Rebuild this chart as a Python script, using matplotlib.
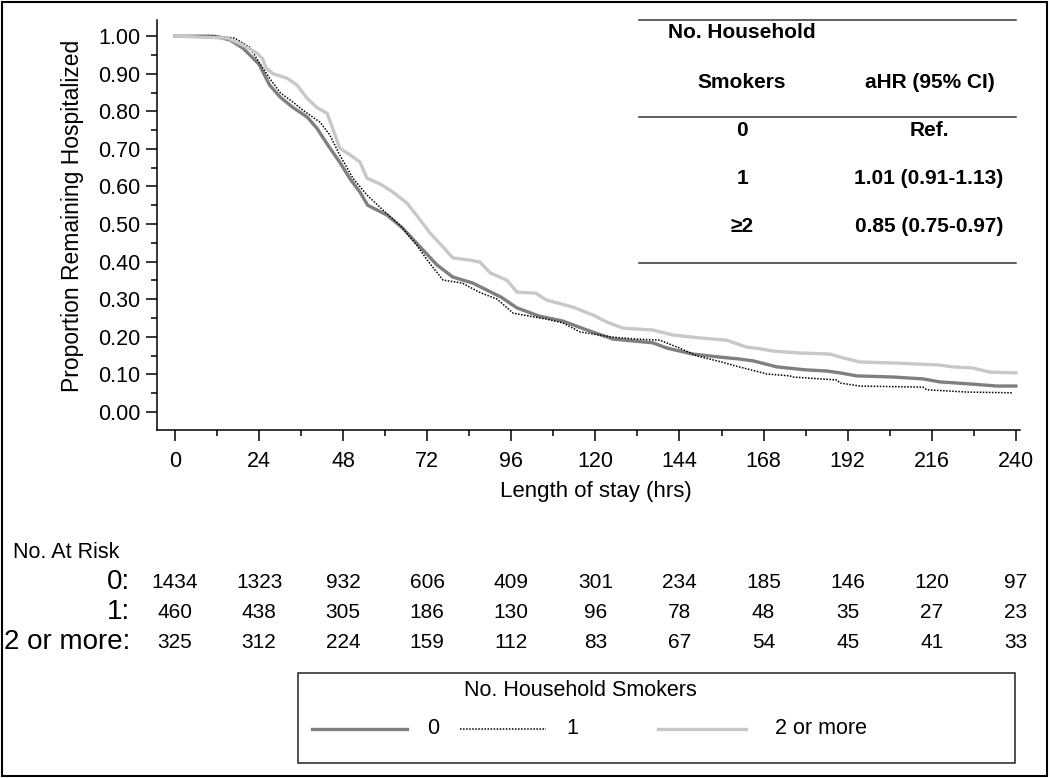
import matplotlib
matplotlib.use("Agg")
import matplotlib.pyplot as plt
from matplotlib.lines import Line2D
from matplotlib.patches import Rectangle
from matplotlib.ticker import MultipleLocator, FormatStrFormatter
import matplotlib.transforms as mtrans

plt.rcParams['font.family'] = ['Liberation Sans', 'DejaVu Sans']

# Kaplan-Meier curves (hours, proportion)
t0 = [0, 11, 15.7, 19.4, 22, 24, 27, 30, 33.7, 37.7, 40.5, 44, 47, 50, 52.8, 55,
      60.5, 65, 70, 74.8, 79.3, 85, 90.8, 93, 97.6, 104, 110.7, 117.6, 125, 136.4,
      140.4, 147.8, 155.5, 161, 165, 171.8, 180, 186, 189.8, 194.6, 205, 213.5,
      218.3, 227.7, 234.6, 240]
s0 = [1.0, 1.0, 0.99, 0.968, 0.944, 0.925, 0.87, 0.838, 0.81, 0.785, 0.755, 0.705,
      0.665, 0.62, 0.585, 0.55, 0.524, 0.489, 0.439, 0.391, 0.359, 0.343, 0.316,
      0.306, 0.277, 0.255, 0.242, 0.218, 0.194, 0.184, 0.17, 0.154, 0.146, 0.141,
      0.136, 0.12, 0.112, 0.109, 0.104, 0.096, 0.093, 0.088, 0.08, 0.074, 0.069,
      0.069]

t1 = [0, 12, 17, 21.4, 24, 27, 30, 33.7, 36.5, 41.4, 44.2, 47, 50.8, 54.8, 59.4,
      64.2, 69, 72, 76.5, 82, 87, 92, 96.5, 106, 110.7, 115.6, 125, 131.8, 138.4,
      144, 149, 156, 161, 169, 175.5, 176.4, 189, 189.8, 195.5, 213.5, 214.6, 226,
      239]
s1 = [1.0, 1.0, 0.995, 0.97, 0.93, 0.888, 0.85, 0.824, 0.803, 0.771, 0.737, 0.684,
      0.622, 0.577, 0.537, 0.497, 0.444, 0.404, 0.351, 0.343, 0.318, 0.3, 0.263,
      0.247, 0.237, 0.213, 0.199, 0.194, 0.191, 0.17, 0.149, 0.133, 0.12, 0.101,
      0.096, 0.093, 0.085, 0.077, 0.069, 0.066, 0.059, 0.053, 0.051]

t2 = [0, 15, 19.4, 23.4, 25, 26, 28, 32, 34.8, 37.7, 40.5, 43.4, 45, 47, 50, 52.8,
      54.8, 58.5, 62.2, 66.2, 70, 72.8, 76.5, 79.3, 84.2, 87, 90, 94.7, 97.6, 103,
      106, 113.6, 119.3, 123.3, 127.9, 136.4, 142, 149.8, 157.5, 163, 167, 170.7,
      178, 187, 190.7, 195.5, 206, 218, 222, 227.7, 232.6, 240]
s2 = [1.0, 0.995, 0.976, 0.955, 0.94, 0.915, 0.9, 0.888, 0.87, 0.835, 0.81, 0.795,
      0.755, 0.702, 0.684, 0.665, 0.622, 0.607, 0.585, 0.556, 0.511, 0.476, 0.439,
      0.41, 0.404, 0.399, 0.37, 0.351, 0.319, 0.316, 0.298, 0.279, 0.258, 0.239,
      0.223, 0.218, 0.205, 0.197, 0.191, 0.173, 0.168, 0.162, 0.157, 0.154, 0.144,
      0.133, 0.13, 0.125, 0.12, 0.117, 0.106, 0.104]

risk_times = [0, 24, 48, 72, 96, 120, 144, 168, 192, 216, 240]
risk_labels = ['0:', '1:', '2 or more:']
risk_0 = [1434, 1323, 932, 606, 409, 301, 234, 185, 146, 120, 97]
risk_1 = [460, 438, 305, 186, 130, 96, 78, 48, 35, 27, 23]
risk_2 = [325, 312, 224, 159, 112, 83, 67, 54, 45, 41, 33]

groups = ['0', '1', '2 or more']
hr_text = ['Ref.', '1.01 (0.91-1.13)', '0.85 (0.75-0.97)']
hr_groups = ['0', '1', '\u22652']

styles = [dict(color='#7f7f7f', lw=2.4, ls='-'),
          dict(color='black', lw=1.1, ls=(0, (1, 1))),
          dict(color='#c8c8c8', lw=2.4, ls='-')]

W, H = 1050, 778
fig = plt.figure(figsize=(W / 100, H / 100), dpi=100)


def fx(x):
    return x / W


def fy(y):
    return 1 - y / H


ax = fig.add_axes([fx(157), fy(430), (1020 - 157) / W, (430 - 20) / H])
for t, s, st in zip([t0, t1, t2], [s0, s1, s2], styles):
    ax.plot(t, s, solid_joinstyle='miter', **st)

ax.set_xlim(-5.14, 241.2)
ax.set_ylim(-0.048, 1.043)
ax.spines['top'].set_visible(False)
ax.spines['right'].set_visible(False)
for sp in ['left', 'bottom']:
    ax.spines[sp].set_linewidth(1.1)
ax.xaxis.set_major_locator(MultipleLocator(24))
ax.xaxis.set_minor_locator(MultipleLocator(12))
ax.yaxis.set_major_locator(MultipleLocator(0.1))
ax.yaxis.set_minor_locator(MultipleLocator(0.05))
ax.yaxis.set_major_formatter(FormatStrFormatter('%.2f'))
ax.tick_params(which='major', length=8, width=1.1, labelsize=15.5)
ax.tick_params(which='minor', length=4, width=1.1)
ax.tick_params(axis='x', pad=7)
ax.tick_params(axis='y', pad=4)

ax.set_xlabel('Length of stay (hrs)', fontsize=16)
ax.xaxis.label.set_va('center')
ax.xaxis.set_label_coords((596 - 157) / 863, (430 - 492) / 410)
ax.set_ylabel('Proportion Remaining Hospitalized', fontsize=16.5)
ax.yaxis.label.set_va('center')
ax.yaxis.set_label_coords((73 - 157) / 863, (430 - 216) / 410)

# hazard ratio table (top right)
for y in [20, 117, 263]:
    fig.add_artist(Line2D([fx(639), fx(1016)], [fy(y), fy(y)], color='#333333', lw=1.1))
tkw = dict(fontsize=15, fontweight='bold', ha='center', va='center')
fig.text(fx(742), fy(33), 'No. Household', **tkw)
fig.text(fx(742), fy(82), 'Smokers', **tkw)
fig.text(fx(930), fy(82), 'aHR (95% CI)', **tkw)
for g, h, y in zip(hr_groups, hr_text, [130, 178, 227]):
    fig.text(fx(742), fy(y), g, **tkw)
    fig.text(fx(929), fy(y), h, **tkw)

# number at risk
fig.text(fx(13), fy(553), 'No. At Risk', fontsize=15.5, ha='left', va='center')
trans = mtrans.blended_transform_factory(ax.transData, fig.transFigure)
for lab, counts, y in zip(risk_labels, [risk_0, risk_1, risk_2], [582, 612, 642]):
    fig.text(fx(130), fy(y), lab, fontsize=20, ha='right', va='center')
    for t, n in zip(risk_times, counts):
        fig.text(t, fy(y), str(n), fontsize=15, ha='center', va='center', transform=trans)

# legend box
fig.add_artist(Rectangle((fx(298), fy(763)), (1015 - 298) / W, (763 - 673) / H,
                         fill=False, edgecolor='#222222', lw=1.1))
fig.text(fx(580), fy(691), 'No. Household Smokers', fontsize=15.5, ha='center', va='center')
seg = [(312, 407, 433), (460, 546, 572), (658, 746, 775)]
for (x0, x1, xl), g, st in zip(seg, groups, styles):
    fig.add_artist(Line2D([fx(x0), fx(x1)], [fy(729), fy(729)], **st))
    fig.text(fx(xl), fy(729), g, fontsize=15.5,
             ha='left' if g == '2 or more' else 'center', va='center')

# outer frame
fig.add_artist(Rectangle((fx(2), fy(776)), 1045 / W, 774 / H, fill=False,
                         edgecolor='black', lw=1.5))

fig.savefig('out.png', dpi=100)
